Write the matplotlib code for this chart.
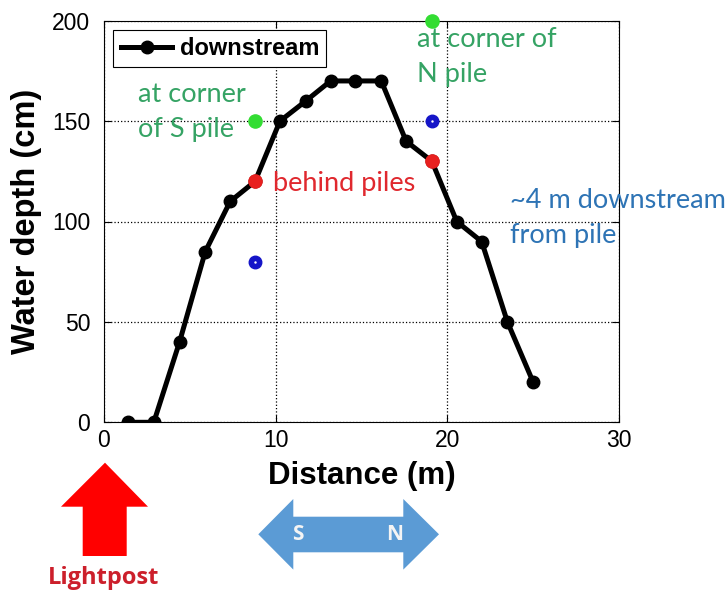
import matplotlib
matplotlib.use("Agg")
import matplotlib.pyplot as plt
from matplotlib.patches import Polygon

# downstream survey
distance = [1.4, 2.9, 4.4, 5.9, 7.35, 8.8, 10.25, 11.75, 13.2, 14.65, 16.15, 17.6, 19.1, 20.55, 22.0, 23.5, 25.0]
depth = [0, 0, 40, 85, 110, 120, 150, 160, 170, 170, 170, 140, 130, 100, 90, 50, 20]

# spot points around the piles
behind_x = [8.8, 19.1]
behind_y = [120, 130]
corner_x = [8.8, 19.1]
corner_y = [150, 200]
far_x = [8.8, 19.1]
far_y = [80, 150]

xticks = [0, 10, 20, 30]
yticks = [0, 50, 100, 150, 200]

W, H = 726, 592
fig = plt.figure(figsize=(W / 100, H / 100), dpi=100)
ax = fig.add_axes([104 / W, 1 - 422.3 / H, 515 / W, 401.6 / H])

ax.plot(distance, depth, '-o', color='black', lw=3.6, ms=9, label='downstream', zorder=3)
ax.plot(behind_x, behind_y, 'o', color='#e8201f', ms=9.5, zorder=4)
ax.plot(corner_x, corner_y, 'o', color='#33dd33', ms=9.5, zorder=4, clip_on=False)
ax.plot(far_x, far_y, 'o', color='#1515c8', ms=9, zorder=4)
ax.plot(far_x, far_y, '.', color='white', ms=1.5, zorder=5)

ax.set_xlim(0, 30)
ax.set_ylim(0, 200)
ax.set_xticks(xticks)
ax.set_yticks(yticks)
ax.grid(True, linestyle=':', color='black', lw=0.9)
ax.tick_params(direction='in', top=True, right=True, labelsize=16.5, length=5)
ax.tick_params(axis='y', pad=10)
ax.tick_params(axis='x', pad=5)
for lab in ax.get_xticklabels() + ax.get_yticklabels():
    lab.set_family('Liberation Sans')

ax.set_xlabel('Distance (m)', fontsize=22.5, fontweight='bold', family='Liberation Sans', labelpad=6)
ax.set_ylabel('Water depth (cm)', fontsize=23.5, fontweight='bold', family='Liberation Sans', labelpad=7)

leg = ax.legend(loc='upper left', prop={'family': 'Liberation Sans', 'weight': 'bold', 'size': 17},
                handlelength=2.2, handletextpad=0.3, borderpad=0.3, borderaxespad=0.4,
                fancybox=False, framealpha=1)
leg.get_frame().set_edgecolor('black')
leg.get_frame().set_linewidth(0.8)

# va='baseline' sits on the last line of a two-line note
note = dict(family='Lato', fontsize=19.5, linespacing=1.5, va='baseline', ha='left')
ax.text(1.98, 141.9, 'at corner\nof S pile', color='#35a364', **note)
ax.text(9.83, 115.2, 'behind piles', color='#e0282e', **note)
ax.text(18.23, 169.5, 'at corner of\nN pile', color='#35a364', **note)
ax.text(23.65, 89.1, '~4 m downstream\nfrom pile', color='#2e74b5', **note)

# sketch under the chart, in pixel coordinates
ov = fig.add_axes([0, 0, 1, 1])
ov.set_xlim(0, W)
ov.set_ylim(H, 0)
ov.axis('off')
ov.patch.set_alpha(0)

lightpost = [(105, 462.7), (148, 506.7), (126.7, 506.7), (126.7, 556), (82.7, 556), (82.7, 506.7), (61, 506.7)]
ov.add_patch(Polygon(lightpost, closed=True, facecolor='#ff0000', edgecolor='none'))
ov.text(104, 578, 'Lightpost', color='#cc1f2b', fontsize=17, fontweight='bold', family='Open Sans',
        ha='center', va='center')

sn = [(258.3, 534.3), (293.3, 499), (293.3, 516.7), (403.3, 516.7), (403.3, 499), (439, 534.3),
      (403.3, 569.6), (403.3, 552.3), (293.3, 552.3), (293.3, 569.6)]
ov.add_patch(Polygon(sn, closed=True, facecolor='#5b9bd5', edgecolor='none'))
ov.text(298, 535, 'S', color='#f4f4f4', fontsize=15, fontweight='bold', family='Open Sans', ha='center', va='center')
ov.text(395, 535, 'N', color='#f4f4f4', fontsize=15, fontweight='bold', family='Open Sans', ha='center', va='center')

fig.savefig('out.png', dpi=100)
